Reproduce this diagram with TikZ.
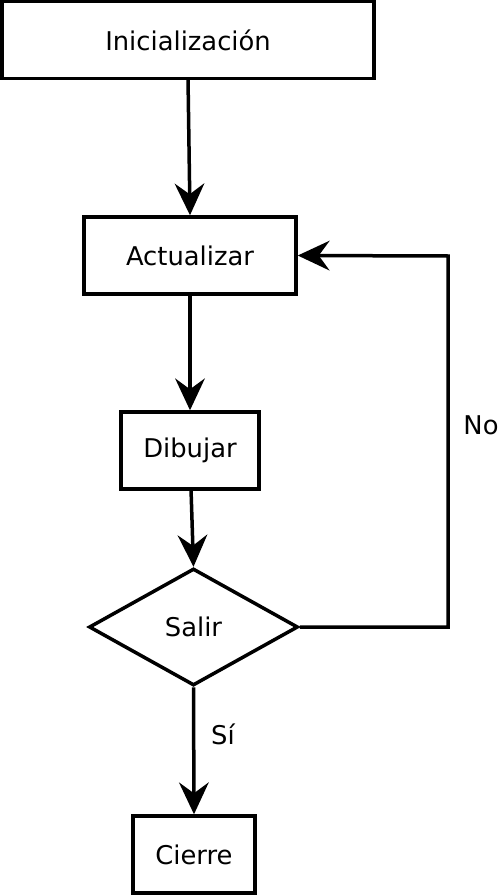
\documentclass[tikz,border=0pt]{standalone}
\usepackage{fontspec}
\setmainfont{DejaVu Sans}
\usetikzlibrary{shapes.geometric,arrows.meta}
\begin{document}
\begin{tikzpicture}[x=1pt,y=-1pt,
  box/.style={draw,line width=3.5pt,minimum height=77pt,inner sep=0pt,font=\fontsize{25.8}{30}\selectfont},
  dec/.style={draw,diamond,line width=3.5pt,inner sep=0pt,font=\fontsize{25.8}{30}\selectfont},
  conn/.style={line width=3.5pt,-{Stealth[length=32pt,width=30pt,inset=11pt,line width=0pt]}},
  lab/.style={font=\fontsize{25.8}{30}\selectfont}]
\useasboundingbox (0,0) rectangle (500,896);
\node[box,minimum width=372pt] (ini) at (188,40) {Inicialización};
\node[box,minimum width=212pt] (act) at (190,255.5) {Actualizar};
\node[box,minimum width=138pt] (dib) at (190,450.5) {Dibujar};
\node[dec,minimum width=209pt,minimum height=117pt] (sal) at (193.5,627) {Salir};
\node[box,minimum width=122pt] (cie) at (194,854.5) {Cierre};
\coordinate (c1) at (448,627);
\coordinate (c2) at (448,256);
\draw[conn] (188,78) -- (act.north);
\draw[conn] (act.south) -- (dib.north);
\draw[conn] (191,489) -- (sal.north);
\draw[conn] (sal.east) -- (c1) -- (c2) -- (act.east);
\draw[conn] (sal.south) -- (cie.north);
\node[lab] (no) at (481,425) {No};
\node[lab] (si) at (223,734) {Sí};
\end{tikzpicture}
\end{document}
